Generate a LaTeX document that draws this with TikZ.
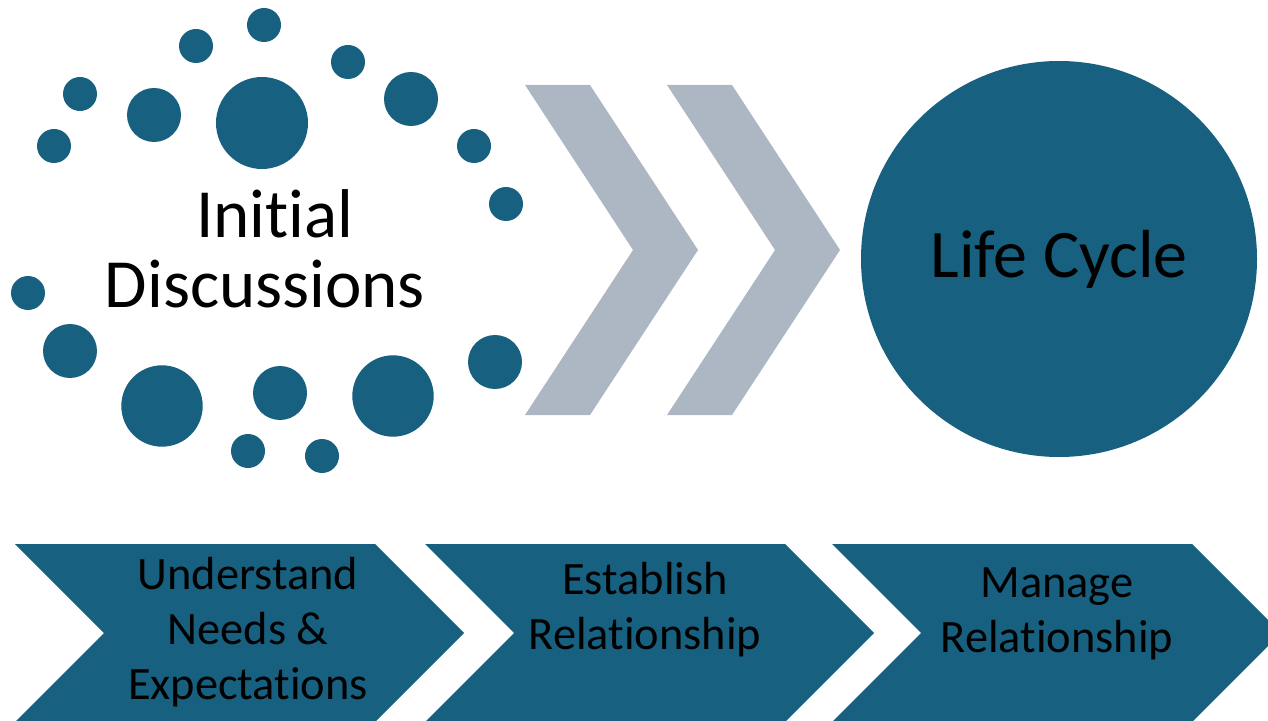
\documentclass[tikz,border=0pt]{standalone}
\usepackage{fontspec}
\setmainfont[Ligatures=NoCommon]{Carlito}
\usepackage{tikz}
\definecolor{cycleblue}{RGB}{23,96,128}
\definecolor{chevgray}{RGB}{172,183,195}
\tikzset{dot/.style={circle, fill=cycleblue, inner sep=0pt},
  sdot/.style={dot, minimum size=17pt},
  mdot/.style={dot, minimum size=27pt},
  ldot/.style={dot, minimum size=40.7pt},
  xldot/.style={dot, minimum size=46pt},
  stepbox/.style={fill=cycleblue},
  steptext/.style={align=center, font=\fontsize{23.2}{27.5}\selectfont}}

\begin{document}
\begin{tikzpicture}[x=0.5pt, y=-0.5pt]
\useasboundingbox (0,0) rectangle (1268,721);

% ring of dots
\node[sdot] (dot-1) at (264,25) {};
\node[sdot] (dot-2) at (196,46) {};
\node[sdot] (dot-3) at (80,94) {};
\node[sdot] (dot-4) at (54,146) {};
\node[mdot] (dot-5) at (154,115) {};
\node[xldot] (dot-6) at (262,123) {};
\node[sdot] (dot-7) at (348,62) {};
\node[mdot] (dot-8) at (411,99) {};
\node[sdot] (dot-9) at (474,146) {};
\node[sdot] (dot-10) at (506,204) {};
\node[sdot] (dot-11) at (28,293) {};
\node[mdot] (dot-12) at (70,351) {};
\node[ldot] (dot-13) at (162,406) {};
\node[mdot] (dot-14) at (280,393) {};
\node[ldot] (dot-15) at (393,396) {};
\node[mdot] (dot-16) at (495,362) {};
\node[sdot] (dot-17) at (248,451) {};
\node[sdot] (dot-18) at (322,456) {};

\node[align=center, font=\fontsize{34.5}{35}\selectfont] (init) at (265,249) {\hspace*{10pt}Initial\\Discussions};

% gray chevrons
\fill[chevgray] (525,85) -- (590,85) -- (698,250) -- (590,415) -- (525,415) -- (633,250) -- cycle;
\fill[chevgray] (667,85) -- (732,85) -- (840,250) -- (732,415) -- (667,415) -- (775,250) -- cycle;

\node[circle, fill=cycleblue, inner sep=0pt, minimum size=198pt, font=\fontsize{34}{36}\selectfont] (life) at (1059,259) {Life Cycle};

% steps
\fill[stepbox] (15,544) -- (375,544) -- (464,633) -- (375,722) -- (15,722) -- (104,633) -- cycle;
\fill[stepbox] (425,544) -- (785,544) -- (874,633) -- (785,722) -- (425,722) -- (514,633) -- cycle;
\fill[stepbox] (832,544) -- (1192,544) -- (1281,633) -- (1192,722) -- (832,722) -- (921,633) -- cycle;

\node[steptext] (needs) at (248,632) {Understand\\Needs \&\\Expectations};
\node[steptext] (establish) at (645,610) {Establish\\Relationship};
\node[steptext] (manage) at (1057,614) {Manage\\Relationship};
\end{tikzpicture}
\end{document}
